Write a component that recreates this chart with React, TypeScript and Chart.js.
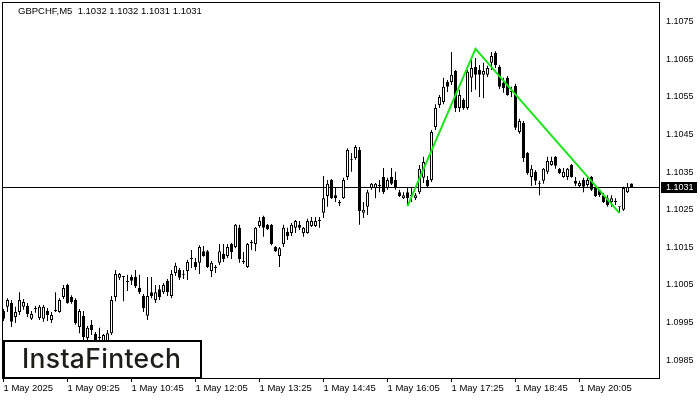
import React, { useEffect, useRef } from 'react';
import { Chart, registerables } from 'chart.js';

Chart.register(...registerables);

const symbolTitle = 'GBPCHF,M5';

const openPrices = [
  1.09981, 1.09992, 1.10002, 1.09965, 1.09978, 1.09992, 1.09994, 1.0996, 1.09986, 1.09962,
  1.0996, 1.09981, 1.09957, 1.09981, 1.09978, 1.10018, 1.1005, 1.10018, 1.1001, 1.09938,
  1.09968, 1.09909, 1.09944, 1.0992, 1.09909, 1.09898, 1.09898, 1.09922, 1.10018, 1.10069,
  1.10071, 1.10058, 1.10071, 1.10071, 1.10042, 1.10021, 1.09968, 1.10031, 1.1001, 1.10039,
  1.10031, 1.10061, 1.10021, 1.10082, 1.1009, 1.10077, 1.10087, 1.10119, 1.10111, 1.10109,
  1.1014, 1.1014, 1.10087, 1.10095, 1.10109, 1.10133, 1.10127, 1.10159, 1.10151, 1.10202,
  1.10111, 1.10098, 1.10162, 1.10159, 1.10207, 1.10231, 1.1021, 1.1021, 1.10151, 1.10127,
  1.10159, 1.10191, 1.10188, 1.10202, 1.1021, 1.10188, 1.10188, 1.10207, 1.10207, 1.1022,
  1.10242, 1.10287, 1.10329, 1.10289, 1.10268, 1.10281, 1.10337, 1.10383, 1.10388, 1.10409,
  1.10242, 1.10258, 1.10308, 1.10308, 1.10313, 1.10337, 1.10308, 1.10337, 1.10329, 1.10297,
  1.10281, 1.10297, 1.10287, 1.10281, 1.10297, 1.10335, 1.10329, 1.10329, 1.1047, 1.10529,
  1.10537, 1.1059, 1.1059, 1.10619, 1.10521, 1.10542, 1.10521, 1.10601, 1.1063, 1.10622,
  1.10609, 1.10609, 1.10641, 1.10667, 1.1063, 1.10587, 1.10601, 1.10563, 1.10579, 1.10457,
  1.10481, 1.10401, 1.10337, 1.10351, 1.10319, 1.10327, 1.10351, 1.10369, 1.10391, 1.10359,
  1.10337, 1.10337, 1.10369, 1.10327, 1.10313, 1.10329, 1.10316, 1.10337, 1.10311, 1.10303,
  1.10289, 1.10281, 1.10271, 1.10271, 1.10258, 1.1025, 1.10297, 1.1032,
];

const highPrices = [
  1.09986, 1.10015, 1.1001, 1.09992, 1.10031, 1.10013, 1.10002, 1.09981, 1.09994, 1.09997,
  1.09997, 1.09989, 1.09978, 1.10031, 1.10015, 1.1005, 1.10053, 1.10023, 1.10015, 1.09986,
  1.09981, 1.09941, 1.09957, 1.09925, 1.09936, 1.0992, 1.0993, 1.10021, 1.1009, 1.10082,
  1.10074, 1.10077, 1.10077, 1.1009, 1.10077, 1.10026, 1.10071, 1.10071, 1.1005, 1.1005,
  1.10055, 1.10066, 1.1009, 1.10109, 1.10095, 1.1009, 1.10117, 1.10143, 1.10122, 1.10156,
  1.10154, 1.10143, 1.10114, 1.10103, 1.10159, 1.10159, 1.10159, 1.10162, 1.10212, 1.1021,
  1.10138, 1.10162, 1.1017, 1.10204, 1.10231, 1.10234, 1.10212, 1.10212, 1.10154, 1.10151,
  1.1021, 1.10202, 1.10215, 1.10223, 1.1022, 1.10204, 1.10226, 1.10231, 1.10231, 1.10231,
  1.1034, 1.10329, 1.10332, 1.10308, 1.10276, 1.10335, 1.10414, 1.10401, 1.10422, 1.10417,
  1.10271, 1.10303, 1.10321, 1.10321, 1.10329, 1.10361, 1.10335, 1.10361, 1.10351, 1.10303,
  1.10297, 1.10308, 1.10308, 1.10295, 1.10369, 1.10391, 1.1034, 1.10462, 1.10531, 1.10555,
  1.10601, 1.10595, 1.1067, 1.10622, 1.10569, 1.10547, 1.10622, 1.10649, 1.10654, 1.10635,
  1.10641, 1.10633, 1.1067, 1.10672, 1.10635, 1.10601, 1.10606, 1.10577, 1.10585, 1.10492,
  1.10486, 1.10404, 1.10369, 1.10356, 1.10327, 1.10361, 1.10391, 1.10391, 1.10393, 1.10361,
  1.10361, 1.10361, 1.10372, 1.10337, 1.10327, 1.10335, 1.10337, 1.1034, 1.10313, 1.10305,
  1.10295, 1.10289, 1.10289, 1.10281, 1.10258, 1.10311, 1.10321, 1.1032,
];

const lowPrices = [
  1.09954, 1.09978, 1.09938, 1.09949, 1.0997, 1.09984, 1.09965, 1.09957, 1.09976, 1.09957,
  1.09952, 1.09954, 1.09949, 1.09978, 1.09976, 1.10013, 1.1, 1.1, 1.09944, 1.09922,
  1.09904, 1.0989, 1.09917, 1.0989, 1.0989, 1.09888, 1.0989, 1.09917, 1.10007, 1.10063,
  1.10007, 1.10034, 1.1005, 1.10042, 1.10026, 1.09978, 1.09957, 1.10015, 1.10002, 1.1001,
  1.10026, 1.10021, 1.10015, 1.10074, 1.10063, 1.10066, 1.10063, 1.10095, 1.1009, 1.10079,
  1.10125, 1.10095, 1.10071, 1.10082, 1.10103, 1.10111, 1.10122, 1.10119, 1.10148, 1.10109,
  1.10106, 1.10095, 1.10143, 1.1014, 1.10202, 1.10178, 1.10196, 1.10156, 1.10138, 1.10098,
  1.10151, 1.1017, 1.1018, 1.10188, 1.10196, 1.10178, 1.10186, 1.10204, 1.10204, 1.10202,
  1.10228, 1.10258, 1.10279, 1.10271, 1.1026, 1.10279, 1.10329, 1.10351, 1.10383, 1.1021,
  1.10228, 1.10236, 1.10303, 1.10281, 1.10297, 1.10292, 1.10303, 1.10316, 1.10303, 1.10284,
  1.10279, 1.1026, 1.10271, 1.10276, 1.10292, 1.10321, 1.10308, 1.10324, 1.10462, 1.10521,
  1.10531, 1.10563, 1.10582, 1.1051, 1.1051, 1.10516, 1.10516, 1.10563, 1.10569, 1.1055,
  1.10547, 1.10603, 1.10622, 1.10627, 1.10571, 1.10561, 1.10553, 1.1055, 1.10462, 1.10452,
  1.10377, 1.10343, 1.10313, 1.10316, 1.10289, 1.10319, 1.10345, 1.10367, 1.10359, 1.10345,
  1.10335, 1.10329, 1.10335, 1.10313, 1.10308, 1.10297, 1.10311, 1.103, 1.10284, 1.10284,
  1.10268, 1.10258, 1.10258, 1.10263, 1.10244, 1.10247, 1.10295, 1.1031,
];

const closePrices = [
  1.0996, 1.1001, 1.09952, 1.09978, 1.1001, 1.10005, 1.09973, 1.09973, 1.09986, 1.09992,
  1.09992, 1.0997, 1.0997, 1.09984, 1.1001, 1.10042, 1.10002, 1.10005, 1.09949, 1.09981,
  1.09912, 1.09936, 1.0993, 1.09901, 1.09909, 1.09917, 1.09922, 1.1001, 1.10079, 1.10079,
  1.10071, 1.10058, 1.10061, 1.10047, 1.10031, 1.09989, 1.10021, 1.10021, 1.10031, 1.10018,
  1.1005, 1.10031, 1.10079, 1.10101, 1.10069, 1.10077, 1.10111, 1.10119, 1.10098, 1.10151,
  1.10127, 1.10098, 1.10109, 1.10095, 1.1014, 1.10119, 1.10151, 1.10138, 1.1021, 1.10119,
  1.10114, 1.10159, 1.10164, 1.10202, 1.1022, 1.10202, 1.10199, 1.10159, 1.1014, 1.10148,
  1.10202, 1.1018, 1.1021, 1.1022, 1.10202, 1.10202, 1.1022, 1.1022, 1.1022, 1.1022,
  1.10281, 1.10319, 1.10281, 1.10281, 1.10268, 1.10329, 1.10409, 1.10383, 1.10417, 1.10247,
  1.1025, 1.10297, 1.10319, 1.10319, 1.10313, 1.10297, 1.10329, 1.10319, 1.10308, 1.10287,
  1.10289, 1.10281, 1.10287, 1.10289, 1.10359, 1.10377, 1.10313, 1.10457, 1.10521, 1.1055,
  1.10577, 1.10577, 1.10609, 1.10521, 1.10555, 1.10521, 1.10617, 1.10627, 1.10609, 1.10609,
  1.10619, 1.10627, 1.10659, 1.10635, 1.10577, 1.10574, 1.10555, 1.10563, 1.10468, 1.10486,
  1.10388, 1.10348, 1.10359, 1.10327, 1.10319, 1.10359, 1.1038, 1.1038, 1.10367, 1.10348,
  1.10351, 1.10359, 1.10337, 1.10319, 1.10321, 1.10311, 1.10329, 1.10303, 1.10287, 1.10289,
  1.10271, 1.10263, 1.10281, 1.10271, 1.10258, 1.10308, 1.10311, 1.1031,
];

const tickBars = [0, 16, 32, 48, 64, 80, 96, 112, 128, 144];
const tickLabels = [
  '1 May 2025', '1 May 09:25', '1 May 10:45', '1 May 12:05', '1 May 13:25',
  '1 May 14:45', '1 May 16:05', '1 May 17:25', '1 May 18:45', '1 May 20:05',
];
const priceTicks = [1.0985, 1.0995, 1.1005, 1.1015, 1.1025, 1.1035, 1.1045, 1.1055, 1.1065, 1.1075];

const patternBars = [101, 118, 154];
const patternPrices = [1.1026, 1.10678, 1.10241];

const bidPrice = 1.1031;
const logoText = 'InstaFintech';

const AXIS_FONT = '"Liberation Sans", Arial, sans-serif';

const decorPlugin = {
  id: 'decor',
  beforeDatasetsDraw(chart: any) {
    const { ctx, chartArea, scales } = chart;
    const y = Math.round(scales.y.getPixelForValue(bidPrice)) + 0.5;
    ctx.save();
    ctx.strokeStyle = '#000';
    ctx.lineWidth = 1;
    ctx.beginPath();
    ctx.moveTo(chartArea.left, y);
    ctx.lineTo(chartArea.right, y);
    ctx.stroke();
    ctx.restore();
  },
  afterDraw(chart: any) {
    const { ctx, chartArea, scales } = chart;
    const { left, top, right, bottom } = chartArea;
    ctx.save();
    // logo box
    ctx.fillStyle = '#fff';
    ctx.fillRect(left, 340, 199, bottom - 340);
    ctx.strokeStyle = '#000';
    ctx.lineWidth = 2;
    ctx.strokeRect(left + 1, 341, 197, bottom - 342);
    ctx.fillStyle = '#1d1d1b';
    ctx.font = '500 26.5px Inter, "Noto Sans", sans-serif';
    ctx.textBaseline = 'alphabetic';
    ctx.textAlign = 'left';
    const w = ctx.measureText(logoText).width;
    const spacing = Math.max(0, (159 - w) / (logoText.length - 1));
    (ctx as any).letterSpacing = `${spacing.toFixed(2)}px`;
    ctx.fillText(logoText, 22, 368);
    (ctx as any).letterSpacing = '0px';
    // frame
    ctx.lineWidth = 1;
    ctx.strokeStyle = '#000';
    ctx.strokeRect(left - 0.5, top - 0.5, right - left, bottom - top);
    // title
    const last = openPrices.length - 1;
    const title = `${symbolTitle}  ${openPrices[last].toFixed(4)} ${highPrices[last].toFixed(4)} ${lowPrices[last].toFixed(4)} ${closePrices[last].toFixed(4)}`;
    ctx.fillStyle = '#000';
    ctx.font = `9.5px ${AXIS_FONT}`;
    ctx.textBaseline = 'middle';
    ctx.fillText(title, 18, 11);
    // bid label
    const yc = Math.round(scales.y.getPixelForValue(bidPrice)) + 0.5;
    ctx.fillStyle = '#000';
    ctx.fillRect(right + 1, yc - 5.5, 36, 11);
    ctx.fillStyle = '#fff';
    ctx.font = `9px ${AXIS_FONT}`;
    ctx.fillText(bidPrice.toFixed(4), right + 6, yc);
    ctx.restore();
  },
};

export default function App() {
  const ref = useRef<HTMLCanvasElement>(null);

  useEffect(() => {
    const canvas = ref.current;
    if (!canvas) return;
    const bodies = openPrices.map((o, i) => ({ x: i, y: [o, closePrices[i]] }));
    const wicks = lowPrices.map((l, i) => ({ x: i, y: [l, highPrices[i]] }));
    const bodyFill = openPrices.map((o, i) => (closePrices[i] > o ? '#ffffff' : '#000000'));
    const pattern = patternBars.map((b, i) => ({ x: b, y: patternPrices[i] }));

    const chart = new Chart(canvas, {
      type: 'bar',
      data: {
        datasets: [
          {
            type: 'line',
            data: pattern,
            borderColor: '#19e619',
            borderWidth: 2,
            pointRadius: 0,
            tension: 0,
            order: 0,
          } as any,
          {
            type: 'bar',
            data: bodies,
            backgroundColor: bodyFill,
            borderColor: '#000',
            borderWidth: 1,
            borderSkipped: false,
            barThickness: 3,
            minBarLength: 1,
            grouped: false,
            inflateAmount: 0,
            order: 1,
          } as any,
          {
            type: 'bar',
            data: wicks,
            backgroundColor: '#000',
            borderWidth: 0,
            barThickness: 1,
            grouped: false,
            inflateAmount: 0,
            order: 2,
          } as any,
        ],
      },
      options: {
        animation: false,
        responsive: false,
        devicePixelRatio: 1,
        events: [],
        layout: { padding: { left: 3, top: 3, right: 0, bottom: 0 } },
        plugins: {
          legend: { display: false },
          tooltip: { enabled: false },
          title: { display: false },
        },
        scales: {
          x: {
            type: 'linear',
            min: -0.125,
            max: 164.125,
            offset: false,
            grid: {
              display: true,
              drawOnChartArea: false,
              drawTicks: true,
              tickLength: 3,
              color: '#000',
              offset: false,
            },
            border: { display: false },
            ticks: {
              autoSkip: false,
              maxRotation: 0,
              minRotation: 0,
              align: 'start',
              padding: 1,
              color: '#000',
              font: { family: AXIS_FONT, size: 9.5 },
              callback: (v: any) => {
                const k = tickBars.indexOf(Number(v));
                return k >= 0 ? tickLabels[k] : '';
              },
            },
            afterBuildTicks: (s: any) => {
              s.ticks = tickBars.map((v) => ({ value: v }));
            },
            afterFit: (s: any) => {
              s.height = 21;
              s.paddingLeft = 0;
              s.paddingRight = 0;
            },
          },
          y: {
            type: 'linear',
            position: 'right',
            min: 1.098,
            max: 1.108,
            grid: { display: false, drawTicks: false },
            border: { display: false },
            ticks: {
              padding: 6,
              color: '#000',
              font: { family: AXIS_FONT, size: 9 },
              callback: (v: any) => Number(v).toFixed(4),
            },
            afterBuildTicks: (s: any) => {
              s.ticks = priceTicks.map((v) => ({ value: v }));
            },
            afterFit: (s: any) => {
              s.width = 40;
              s.paddingTop = 0;
              s.paddingBottom = 0;
            },
          },
        },
      } as any,
      plugins: [decorPlugin],
    });
    return () => chart.destroy();
  }, []);

  return (
    <div style={{ position: 'fixed', left: 0, top: 0, width: 700, height: 400, background: '#fff' }}>
      <canvas ref={ref} width={700} height={400} style={{ display: 'block' }} />
    </div>
  );
}
